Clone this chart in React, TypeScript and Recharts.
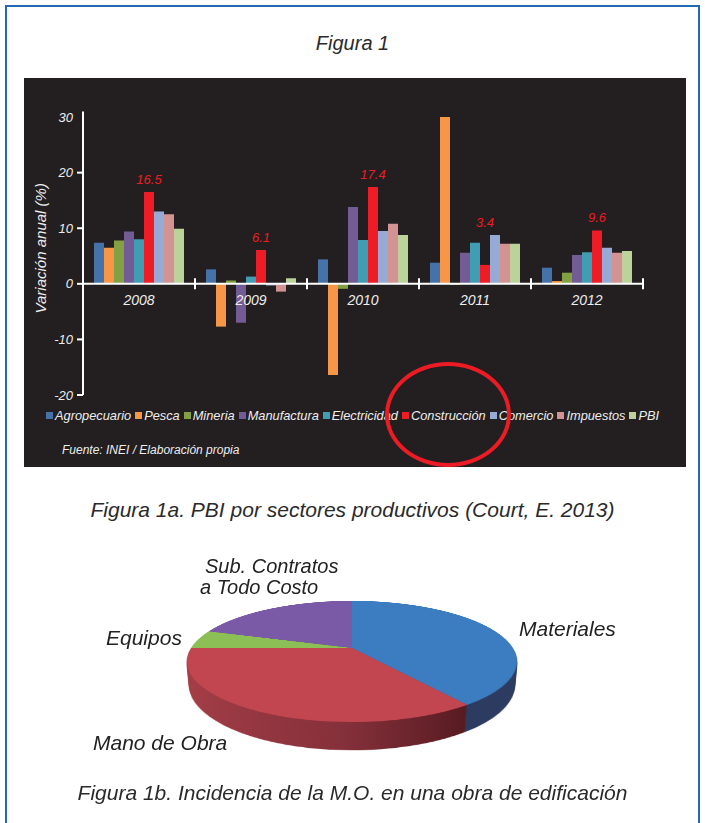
import React from 'react'
import { BarChart, Bar, XAxis, YAxis, ReferenceLine, Legend, LabelList, PieChart, Pie, Cell } from 'recharts'

const FONT = "'Liberation Sans', Arial, Helvetica, sans-serif"

// Figura 1a: variación anual (%) por sector
const YEARS = ['2008', '2009', '2010', '2011', '2012']
const SECTORS = ['Agropecuario', 'Pesca', 'Mineria', 'Manufactura', 'Electricidad', 'Construcción', 'Comercio', 'Impuestos', 'PBI']
const SECTOR_COLORS = ['#4672aa', '#f79646', '#83a142', '#735b95', '#409db3', '#ee1c25', '#95aad5', '#d39392', '#bbd39b']

const agropecuario = [7.4, 2.6, 4.4, 3.8, 2.9]
const pesca = [6.5, -7.7, -16.4, 30.0, 0.5]
const mineria = [7.8, 0.6, -0.9, -0.2, 2.0]
const manufactura = [9.4, -7.0, 13.8, 5.6, 5.2]
const electricidad = [8.0, 1.3, 7.9, 7.4, 5.7]
const construccion = [16.5, 6.1, 17.4, 3.4, 9.6]
const comercio = [13.0, -0.3, 9.5, 8.8, 6.5]
const impuestos = [12.5, -1.4, 10.8, 7.2, 5.6]
const pbi = [9.9, 1.0, 8.8, 7.2, 5.9]
const SERIES = [agropecuario, pesca, mineria, manufactura, electricidad, construccion, comercio, impuestos, pbi]

const Y_TICKS = [-20, -10, 0, 10, 20, 30]
const Y_MIN = -20
const Y_MAX = 31

// Figura 1b: incidencia de la M.O.
const PIE_NAMES = ['Materiales', 'Mano de Obra', 'Equipos', 'Sub. Contratos a Todo Costo']
const PIE_VALUES = [40, 35, 5, 20]
const PIE_TOP = ['#3c7cc1', '#c2464f', '#8cbf55', '#7a5aa6']
const PIE_SIDE = ['#2c3b60', 'url(#manoSide)', '#5e8a36', '#553e78']

const barData = YEARS.map((year, i) => {
  const row: Record<string, string | number> = { year }
  SECTORS.forEach((s, k) => (row[s] = SERIES[k][i]))
  return row
})
const pieData = PIE_NAMES.map((name, i) => ({ name, value: PIE_VALUES[i] }))

// bar chart frame
const CHART_W = 662
const CHART_H = 389
const M_TOP = 33.5
const M_RIGHT = 43
const M_BOTTOM = 71
const Y_AXIS_W = 59
const X_AXIS_H = 1
const PLOT_H = CHART_H - M_TOP - M_BOTTOM - X_AXIS_H
const PLOT_W = CHART_W - Y_AXIS_W - M_RIGHT
const ZERO_Y = M_TOP + (PLOT_H * Y_MAX) / (Y_MAX - Y_MIN)
const BAND = PLOT_W / YEARS.length

const LIGHT = '#eeeeee'

function ValueTick({ x, y, payload }: any) {
  const top = payload.value === Y_TICKS[Y_TICKS.length - 1]
  return (
    <g>
      {!top && <line x1={x + 2} x2={x + 8} y1={y} y2={y} stroke="#fff" strokeWidth={2} />}
      <text x={x - 2} y={y} dy={4.5} textAnchor="end" fill={LIGHT} fontSize={13} fontStyle="italic" fontFamily={FONT}>
        {payload.value}
      </text>
    </g>
  )
}

// year labels sit under the zero line, with a cross tick at each category edge
function YearTick({ x, payload }: any) {
  const edge = x + BAND / 2
  return (
    <g>
      <line x1={edge} x2={edge} y1={ZERO_Y - 5.5} y2={ZERO_Y + 5.5} stroke="#fff" strokeWidth={2} />
      <text x={x} y={ZERO_Y + 21} textAnchor="middle" fill={LIGHT} fontSize={14} fontStyle="italic" fontFamily={FONT}>
        {payload.value}
      </text>
    </g>
  )
}

function AxisTitle({ viewBox }: any) {
  const cx = viewBox.x + 16.5
  const cy = viewBox.y + viewBox.height / 2 - 5
  return (
    <text
      x={cx}
      y={cy}
      transform={`rotate(-90 ${cx} ${cy})`}
      textAnchor="middle"
      dominantBaseline="central"
      fill={LIGHT}
      fontSize={15}
      fontStyle="italic"
      fontFamily={FONT}
    >
      Variación anual (%)
    </text>
  )
}

// label rides above the tallest of Construcción and its two neighbours
function PeakLabel({ x, y, width, height, value, index }: any) {
  const ppu = Math.abs(height) / Math.abs(value)
  const reach = Math.max(electricidad[index], construccion[index], comercio[index])
  const top = y - (reach - value) * ppu
  return (
    <text x={x + width / 2} y={top - 8} textAnchor="middle" fill="#ed1c24" fontSize={13} fontStyle="italic" fontFamily={FONT}>
      {value}
    </text>
  )
}

function LegendRow({ payload }: any) {
  const items = [...(payload || [])].sort((a: any, b: any) => SECTORS.indexOf(a.value) - SECTORS.indexOf(b.value))
  return (
    <div style={{ display: 'flex', alignItems: 'center', whiteSpace: 'nowrap', fontFamily: FONT, fontStyle: 'italic', fontSize: 12.8, color: LIGHT, lineHeight: '15px' }}>
      {items.map((p: any) => (
        <span key={p.value} style={{ display: 'inline-flex', alignItems: 'center', marginRight: 4 }}>
          <span style={{ display: 'inline-block', width: 7, height: 7, background: p.color, marginRight: 2 }} />
          {p.value}
        </span>
      ))}
    </div>
  )
}

const PIE_R = 161
const PIE_BOX = 330
const PIE_DEPTH = 25
const PIE_CX = 352
const PIE_CY = 648
const PIE_LAYERS = Array.from({ length: PIE_DEPTH + 1 }, (_, i) => PIE_DEPTH - i)

function PieLayer({ depth }: { depth: number }) {
  const isTop = depth === 0
  return (
    <div style={{ position: 'absolute', left: 0, top: 0, width: PIE_BOX, height: PIE_BOX, transform: `translateZ(${-depth}px)` }}>
      <PieChart width={PIE_BOX} height={PIE_BOX} margin={{ top: 0, right: 0, bottom: 0, left: 0 }}>
        <defs>
          <linearGradient id="manoSide" x1="0" y1="0" x2="1" y2="0">
            <stop offset="0" stopColor="#a63e47" />
            <stop offset="0.6" stopColor="#85303a" />
            <stop offset="1" stopColor="#561a20" />
          </linearGradient>
        </defs>
        <Pie
          data={pieData}
          dataKey="value"
          nameKey="name"
          cx="50%"
          cy="50%"
          outerRadius={PIE_R}
          startAngle={90}
          endAngle={-270}
          stroke="none"
          isAnimationActive={false}
        >
          {pieData.map((d, i) => (
            <Cell key={d.name} fill={isTop ? PIE_TOP[i] : PIE_SIDE[i]} />
          ))}
        </Pie>
      </PieChart>
    </div>
  )
}

const caption: React.CSSProperties = {
  position: 'absolute',
  left: 0,
  width: 705,
  textAlign: 'center',
  fontFamily: FONT,
  fontStyle: 'italic',
  fontSize: 21,
  lineHeight: '24px',
  color: '#2a2a2a',
}

const pieLabel: React.CSSProperties = {
  position: 'absolute',
  fontFamily: FONT,
  fontStyle: 'italic',
  fontSize: 21,
  lineHeight: '24px',
  color: '#222',
  whiteSpace: 'nowrap',
}

export default function App() {
  return (
    <div style={{ position: 'absolute', left: 0, top: 0, width: 705, height: 823, background: '#fff', overflow: 'hidden' }}>
      <div style={{ position: 'absolute', left: 5, top: 5, width: 691, height: 900, border: '2px solid #2469b3' }} />

      <div style={{ ...caption, top: 31, fontSize: 20 }}>Figura 1</div>

      <div style={{ position: 'absolute', left: 24, top: 78, width: CHART_W, height: CHART_H, background: '#231f20' }}>
        <BarChart
          width={CHART_W}
          height={CHART_H}
          data={barData}
          margin={{ top: M_TOP, right: M_RIGHT, bottom: M_BOTTOM, left: 0 }}
          barCategoryGap={11}
          barGap={0}
        >
          <YAxis
            width={Y_AXIS_W}
            domain={[Y_MIN, Y_MAX]}
            ticks={Y_TICKS}
            interval={0}
            allowDataOverflow
            axisLine={{ stroke: '#fff', strokeWidth: 2 }}
            tickLine={false}
            tickSize={6}
            tickMargin={2}
            tick={<ValueTick />}
            label={<AxisTitle />}
          />
          <XAxis dataKey="year" height={X_AXIS_H} interval={0} axisLine={false} tickLine={false} tick={<YearTick />} />
          {SECTORS.map((s, k) => (
            <Bar key={s} dataKey={s} name={s} fill={SECTOR_COLORS[k]} isAnimationActive={false}>
              {s === 'Construcción' && <LabelList dataKey={s} content={<PeakLabel />} />}
            </Bar>
          ))}
          <ReferenceLine y={0} stroke="#fff" strokeWidth={2} />
          <Legend
            layout="horizontal"
            verticalAlign="middle"
            align="center"
            itemSorter={null as any}
            content={<LegendRow />}
            wrapperStyle={{ left: 22, top: 330, width: 660, height: 15 }}
          />
        </BarChart>
        <div style={{ position: 'absolute', left: 38, top: 365, fontFamily: FONT, fontStyle: 'italic', fontSize: 12, color: LIGHT, whiteSpace: 'nowrap' }}>
          Fuente: INEI / Elaboración propia
        </div>
      </div>

      <div
        style={{
          position: 'absolute',
          left: 385,
          top: 362,
          width: 126,
          height: 105,
          boxSizing: 'border-box',
          border: '4px solid #ed1c24',
          borderRadius: '50%',
        }}
      />

      <div style={{ ...caption, top: 498 }}>Figura 1a. PBI por sectores productivos (Court, E. 2013)</div>

      <div style={{ position: 'absolute', left: PIE_CX - PIE_BOX / 2, top: PIE_CY - PIE_BOX / 2, width: PIE_BOX, height: PIE_BOX, perspective: '680px' }}>
        <div style={{ position: 'relative', width: PIE_BOX, height: PIE_BOX, transform: 'rotateX(69deg)', transformStyle: 'preserve-3d' }}>
          {PIE_LAYERS.map((d) => (
            <PieLayer key={d} depth={d} />
          ))}
        </div>
      </div>

      <div style={{ ...pieLabel, left: 205, top: 556, fontSize: 20, lineHeight: '20px' }}>Sub. Contratos</div>
      <div style={{ ...pieLabel, left: 200, top: 577, fontSize: 20, lineHeight: '20px' }}>a Todo Costo</div>
      <div style={{ ...pieLabel, left: 106, top: 626 }}>Equipos</div>
      <div style={{ ...pieLabel, left: 519, top: 617 }}>Materiales</div>
      <div style={{ ...pieLabel, left: 93, top: 731 }}>Mano de Obra</div>

      <div style={{ ...caption, top: 781 }}>Figura 1b. Incidencia de la M.O. en una obra de edificación</div>
    </div>
  )
}
